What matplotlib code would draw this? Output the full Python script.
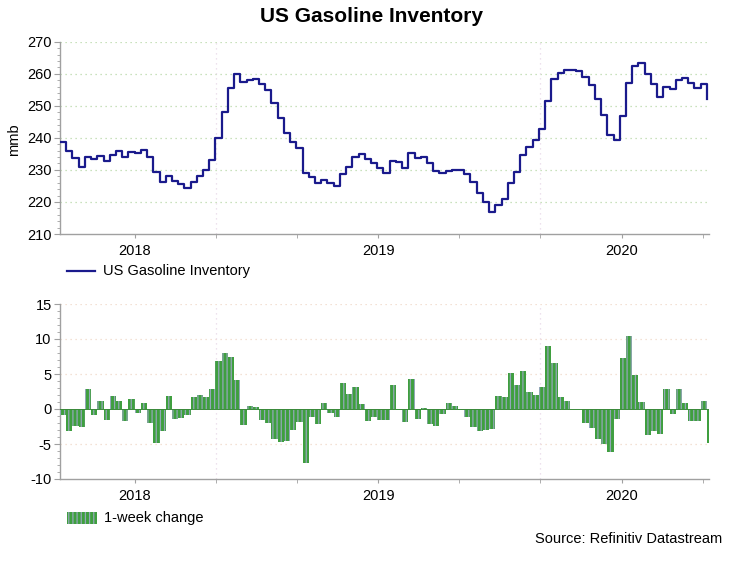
import numpy as np
import matplotlib
matplotlib.use("Agg")
import matplotlib.pyplot as plt
from matplotlib.patches import Rectangle
from matplotlib.lines import Line2D

plt.rcParams['font.family'] = ['Liberation Sans', 'DejaVu Sans']
plt.rcParams['hatch.linewidth'] = 0.9
plt.rcParams['axes.unicode_minus'] = False

# ---- data (weekly) ----
inventory = [
    238.8, 235.9, 233.6, 231.0, 234.0, 233.3, 234.4, 232.8, 234.6, 235.9,
    234.1, 235.6, 235.2, 236.1, 234.1, 229.4, 226.1, 228.1, 226.6, 225.5,
    224.5, 226.2, 228.2, 230.0, 233.0, 239.8, 248.1, 255.5, 259.8, 257.5,
    257.9, 258.3, 256.9, 255.0, 250.8, 246.1, 241.4, 238.6, 236.8, 229.1,
    227.9, 225.8, 226.7, 226.0, 224.9, 228.7, 230.9, 234.1, 235.0, 233.3,
    232.3, 230.7, 229.1, 232.9, 232.6, 230.7, 235.2, 233.8, 234.1, 232.1,
    229.7, 229.0, 229.7, 230.1, 230.0, 228.7, 226.1, 222.9, 219.9, 217.0,
    218.9, 220.8, 225.8, 229.5, 234.7, 237.3, 239.3, 242.7, 251.6, 258.4,
    260.1, 261.2, 261.2, 261.0, 259.1, 256.5, 252.0, 247.0, 240.9, 239.2,
    246.8, 257.2, 262.4, 263.2, 259.8, 256.7, 252.8, 256.0, 255.1, 258.0,
    258.6, 257.2, 255.4, 256.7, 252.0,
]
weekly_change = [
    -0.8, -3.2, -2.4, -2.6, 2.9, -0.8, 1.2, -1.6, 1.8, 1.2,
    -1.7, 1.5, -0.6, 0.9, -2.0, -4.9, -3.1, 1.8, -1.4, -1.3,
    -0.8, 1.7, 2.0, 1.7, 2.9, 6.9, 8.0, 7.4, 4.1, -2.3,
    0.4, 0.3, -1.5, -2.0, -4.3, -4.7, -4.6, -3.0, -1.9, -7.7,
    -1.2, -2.2, 0.85, -0.6, -1.1, 3.7, 2.2, 3.2, 0.7, -1.7,
    -1.1, -1.6, -1.5, 3.5, -0.1, -1.8, 4.3, -1.4, 0.1, -2.2,
    -2.4, -0.7, 0.8, 0.4, -0.1, -1.2, -2.6, -3.1, -3.0, -2.8,
    1.8, 1.7, 5.1, 3.4, 5.4, 2.4, 2.0, 3.1, 9.0, 6.6,
    1.7, 1.2, 0.0, 0.0, -2.0, -2.7, -4.3, -5.0, -6.1, -1.4,
    7.3, 10.5, 4.9, 1.0, -3.7, -3.2, -3.6, 2.8, -0.7, 2.8,
    0.8, -1.7, -1.7, 1.2, -4.9,
]
year_labels = ['2018', '2019', '2020']

# ---- layout ----
W, H = 744, 577
fig = plt.figure(figsize=(W / 100, H / 100), dpi=100)

def fx(px):
    return px / W

def fy(py):
    return 1 - py / H

x_left, x_right = 60, 709
ax1 = fig.add_axes([fx(x_left), fy(234), fx(x_right - x_left), fy(41.7) - fy(234)])
ax2 = fig.add_axes([fx(x_left), fy(479), fx(x_right - x_left), fy(304) - fy(479)])

n = len(inventory)
xs = np.arange(n)
xmax = 104.35
label_ticks = [12.0, 51.15, 90.3]
minor_xticks = [25.05, 38.1, 64.2, 77.25, 103.35]
vgrid = [25.05, 77.25]

axis_col = '#a0a0a0'
text_col = '#000000'
bar_face = '#3f9f3f'
bar_hatch = '#93a7b8'

def style_axis(ax, ylim, major, minor, gridcol):
    ax.set_xlim(0, xmax)
    ax.set_ylim(*ylim)
    for s in ['top', 'right']:
        ax.spines[s].set_visible(False)
    for s in ['left', 'bottom']:
        ax.spines[s].set_color(axis_col)
        ax.spines[s].set_linewidth(1.0)
    ax.set_yticks(major)
    ax.set_yticks(minor, minor=True)
    ax.set_xticks(label_ticks)
    ax.set_xticklabels(year_labels)
    ax.set_xticks(minor_xticks, minor=True)
    ax.tick_params(axis='y', which='major', length=4, color=axis_col,
                   labelsize=10.5, labelcolor=text_col, pad=2)
    ax.tick_params(axis='y', which='minor', length=2, color=axis_col)
    ax.tick_params(axis='x', which='both', length=3, color=axis_col,
                   labelsize=10.5, labelcolor=text_col, pad=4)
    for v in major:
        if v != ylim[0] and v != 0:
            ax.axhline(v, color=gridcol, lw=0.9, ls=(0, (1, 3)), zorder=0)
    for v in vgrid:
        ax.axvline(v, color='#e8d8e8', lw=0.9, ls=(0, (1, 3)), zorder=0)

# ---- upper panel ----
style_axis(ax1, (210, 270), np.arange(210, 271, 10), np.arange(210, 271, 2), '#b8d8a8')
ax1.plot(xs, inventory, drawstyle='steps-post', color='#1a1a8c', lw=1.6, zorder=3)
fig.text(fx(14), fy(140), 'mmb', rotation=90, ha='center', va='center', fontsize=10.5)

# ---- lower panel ----
style_axis(ax2, (-10, 15), np.arange(-10, 16, 5), np.arange(-10, 16, 1), '#f0d8c8')
ax2.bar(xs + 0.5, weekly_change, width=1.0, facecolor=bar_face,
        edgecolor=bar_hatch, hatch='||||', linewidth=0, zorder=3)
ax2.axhline(0, color='#3a8a3a', lw=0.7, zorder=4)

# ---- title / legends / source ----
fig.text(0.5, fy(17), 'US Gasoline Inventory', ha='center', va='center',
         fontsize=15, fontweight='bold')

fig.add_artist(Line2D([fx(67), fx(95)], [fy(271), fy(271)], color='#1a1a8c', lw=1.6,
                      transform=fig.transFigure))
fig.text(fx(103), fy(271), 'US Gasoline Inventory', ha='left', va='center', fontsize=10.5)

fig.add_artist(Rectangle((fx(67), fy(524)), fx(30), fy(512) - fy(524),
                         facecolor=bar_face, edgecolor=bar_hatch, hatch='||||',
                         linewidth=0, transform=fig.transFigure))
fig.text(fx(104), fy(518), '1-week change', ha='left', va='center', fontsize=10.5)

fig.text(fx(722), fy(539), 'Source: Refinitiv Datastream', ha='right', va='center',
         fontsize=10.5)

fig.savefig('out.png', dpi=100)
